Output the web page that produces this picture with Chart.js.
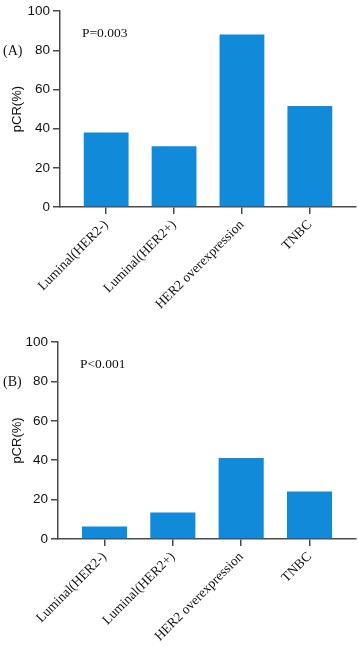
<!DOCTYPE html>
<html><head><meta charset="utf-8">
<script src="https://cdn.jsdelivr.net/npm/chart.js@4"></script>
<style>
html,body{margin:0;padding:0;background:#fff;}
.box{position:absolute;left:0;width:358px;}
</style></head>
<body>
<div class="box" style="top:0;height:325px"><canvas id="c1" width="358" height="325"></canvas></div>
<div class="box" style="top:325px;height:324px"><canvas id="c2" width="358" height="324"></canvas></div>
<script>
const categories = ['Luminal(HER2-)', 'Luminal(HER2+)', 'HER2 overexpression', 'TNBC'];
const pcrA = [38, 31, 88, 51.5];
const pcrB = [6.4, 13.5, 41.1, 24.1];
const yTicks = [0, 20, 40, 60, 80, 100];
const panelA = '(A)';
const panelB = '(B)';
const pA = 'P=0.003';
const pB = 'P<0.001';

const BLUE = '#118ad9';
const AXIS = '#4a4a4a';

const textPlugin = {
  id: 'panelText',
  afterDraw(chart, args, opts) {
    const ctx = chart.ctx, a = chart.chartArea, ys = chart.scales.y;
    ctx.save();
    ctx.fillStyle = '#111';
    ctx.textBaseline = 'middle';
    ctx.textAlign = 'left';
    ctx.font = '14px "Liberation Serif", "Times New Roman", serif';
    ctx.fillText(opts.panel, 3, ys.getPixelForValue(opts.panelY));
    ctx.font = '13.5px "Liberation Serif", "Times New Roman", serif';
    ctx.fillText(opts.p, a.left + 22, ys.getPixelForValue(opts.pY));
    ctx.restore();
  }
};

function make(id, values, yW, xH, padTop, panel, p) {
  return new Chart(document.getElementById(id), {
    type: 'bar',
    data: {
      datasets: [{
        data: values.map((v, i) => ({x: i, y: v})),
        backgroundColor: BLUE,
        borderWidth: 0,
        barPercentage: 1,
        categoryPercentage: 0.66
      }]
    },
    options: {
      responsive: false,
      animation: false,
      layout: {padding: {top: padTop, right: 2, left: 0, bottom: 0}},
      plugins: {
        legend: {display: false},
        tooltip: {enabled: false},
        panelText: {panel: panel, p: p, panelY: 79.5, pY: 88.7}
      },
      scales: {
        x: {
          type: 'linear',
          offset: false,
          min: -0.68,
          max: 3.68,
          afterBuildTicks: (ax) => { ax.ticks = categories.map((_, i) => ({value: i})); },
          afterFit: (ax) => { ax.height = xH; },
          grid: {display: true, offset: false, drawOnChartArea: false, tickLength: 7, color: AXIS, lineWidth: 1.5},
          border: {display: true, color: AXIS, width: 1.5},
          ticks: {
            autoSkip: false,
            maxRotation: 45, minRotation: 45,
            padding: 3,
            color: '#111',
            font: {family: '"Liberation Serif", "Times New Roman", serif', size: 13.5},
            callback: (v) => categories[v]
          }
        },
        y: {
          min: 0, max: 100,
          afterBuildTicks: (ax) => { ax.ticks = yTicks.map(v => ({value: v})); },
          afterFit: (ax) => { ax.width = yW; },
          grid: {display: true, drawOnChartArea: false, tickLength: 7, color: AXIS, lineWidth: 1.5},
          border: {display: true, color: AXIS, width: 1.5},
          ticks: {
            padding: 3,
            color: '#111',
            font: {family: '"Liberation Sans", Arial, sans-serif', size: 13.5}
          },
          title: {
            display: true, text: 'pCR(%)', color: '#111', padding: {top: 10, bottom: 0},
            font: {family: '"Liberation Sans", Arial, sans-serif', size: 13}
          }
        }
      }
    },
    plugins: [textPlugin]
  });
}

make('c1', pcrA, 60, 118, 9, panelA, pA);
make('c2', pcrB, 58, 110, 17, panelB, pB);
</script>
</body></html>
